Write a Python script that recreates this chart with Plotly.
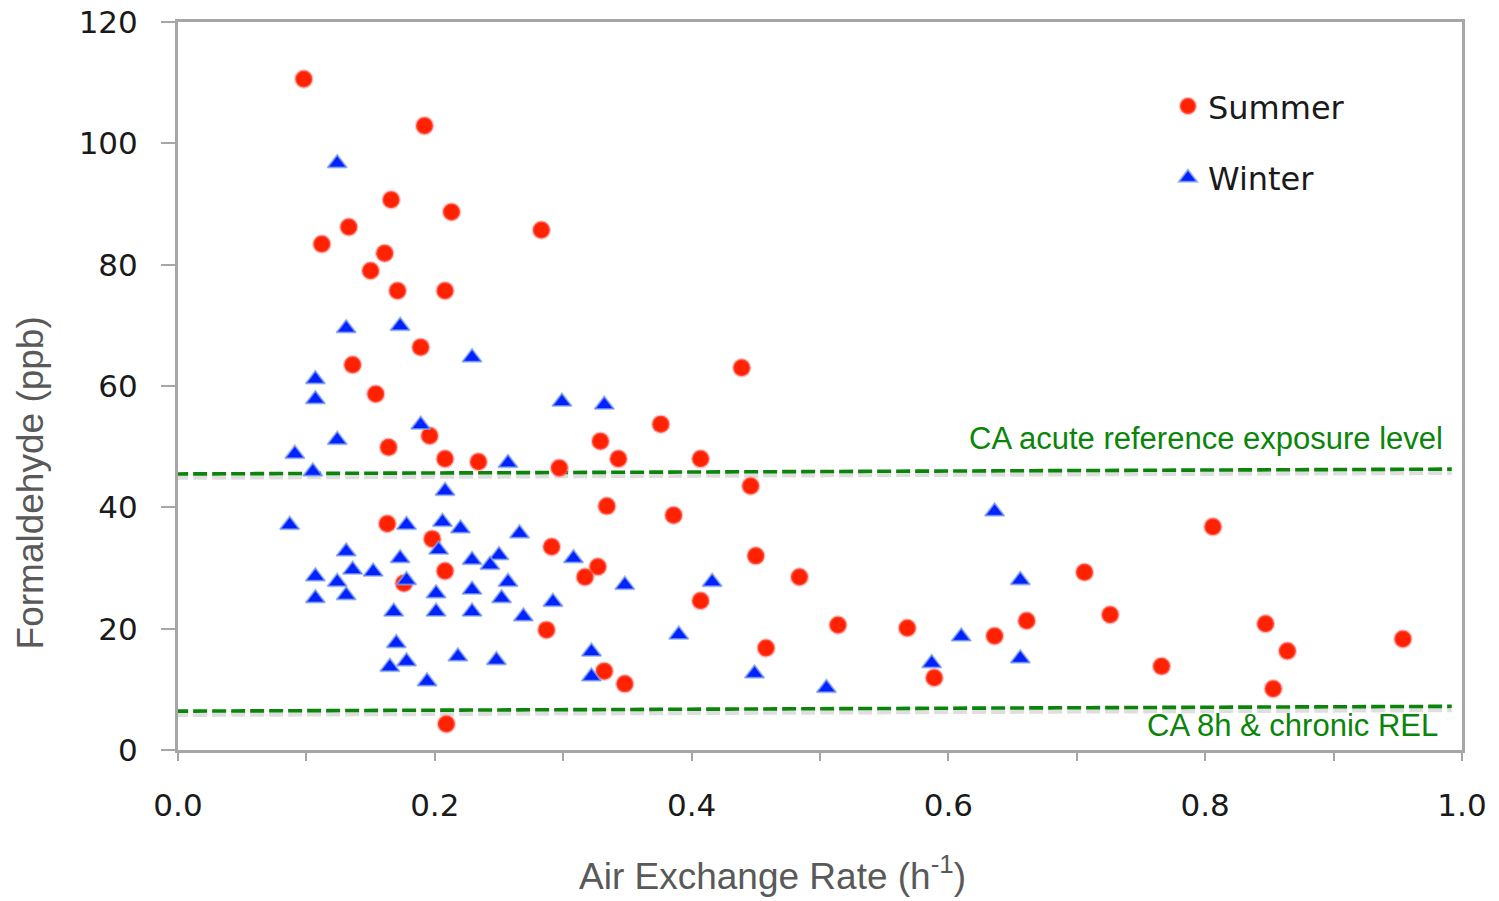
import plotly.graph_objects as go

# ---- data ----
summer_x = [0.098, 0.192, 0.166, 0.213, 0.112, 0.133, 0.283, 0.161, 0.150, 0.171,
            0.208, 0.189, 0.136, 0.439, 0.154, 0.376, 0.196, 0.329, 0.164, 0.208,
            0.234, 0.343, 0.407, 0.297, 0.446, 0.334, 0.386, 0.806, 0.163, 0.198,
            0.291, 0.450, 0.706, 0.327, 0.317, 0.208, 0.176, 0.484, 0.407, 0.726,
            0.514, 0.568, 0.287, 0.661, 0.636, 0.847, 0.864, 0.954, 0.458, 0.766,
            0.332, 0.348, 0.589, 0.853, 0.209]
summer_y = [110.6, 102.9, 90.7, 88.7, 83.4, 86.2, 85.7, 81.9, 79.0, 75.7,
            75.7, 66.4, 63.5, 63.0, 58.7, 53.7, 51.8, 50.9, 49.9, 48.0,
            47.5, 48.0, 48.0, 46.5, 43.5, 40.2, 38.7, 36.8, 37.3, 34.8,
            33.5, 32.0, 29.3, 30.2, 28.5, 29.5, 27.5, 28.5, 24.6, 22.3,
            20.6, 20.1, 19.8, 21.3, 18.8, 20.8, 16.3, 18.3, 16.8, 13.8,
            13.0, 10.9, 11.9, 10.1, 4.3]

winter_x = [0.124, 0.131, 0.173, 0.229, 0.107, 0.107, 0.299, 0.332, 0.189, 0.124,
            0.091, 0.257, 0.105, 0.208, 0.087, 0.178, 0.206, 0.220, 0.266, 0.636,
            0.131, 0.203, 0.173, 0.229, 0.250, 0.243, 0.308, 0.136, 0.152, 0.107,
            0.124, 0.178, 0.257, 0.348, 0.416, 0.656, 0.107, 0.131, 0.201, 0.229,
            0.252, 0.292, 0.168, 0.201, 0.229, 0.269, 0.170, 0.390, 0.610, 0.322,
            0.165, 0.178, 0.218, 0.248, 0.322, 0.449, 0.587, 0.656, 0.194, 0.505]
winter_y = [96.7, 69.5, 69.9, 64.7, 61.1, 57.8, 57.4, 56.9, 53.6, 51.1,
            48.8, 47.3, 45.9, 42.7, 37.1, 37.1, 37.6, 36.5, 35.7, 39.3,
            32.7, 33.0, 31.6, 31.3, 32.1, 30.5, 31.6, 29.7, 29.4, 28.6,
            27.7, 28.0, 27.7, 27.2, 27.7, 28.0, 25.0, 25.5, 25.8, 26.4,
            25.0, 24.4, 22.8, 22.8, 22.8, 22.0, 17.6, 19.0, 18.7, 16.2,
            13.7, 14.6, 15.4, 14.8, 12.1, 12.6, 14.3, 15.1, 11.3, 10.2]

# reference levels (drawn as slightly tilted dashed lines, as in the original)
ref_line_x = [-0.003, 0.992]
acute_rel_y = [45.5, 46.3]
chronic_rel_y = [6.4, 7.2]
acute_label = "CA acute reference exposure level"
chronic_label = "CA 8h & chronic REL"

GREEN = "#0a850a"
GRAY_AXIS = "#a6a6a6"
LABEL_FONT = "Liberation Sans Narrow, Arial Narrow, Liberation Sans, Arial"

fig = go.Figure()

# shadows of the dashed lines, then the lines
for yy in (acute_rel_y, chronic_rel_y):
    fig.add_trace(go.Scatter(
        x=ref_line_x, y=[v - 0.6 for v in yy], mode="lines",
        line=dict(color="rgba(0,0,0,0.13)", width=4.5, dash="14px,5px"),
        showlegend=False, hoverinfo="skip"))
    fig.add_trace(go.Scatter(
        x=ref_line_x, y=yy, mode="lines",
        line=dict(color=GREEN, width=3.6, dash="14px,5px"),
        showlegend=False, hoverinfo="skip"))

fig.add_trace(go.Scatter(
    x=summer_x, y=summer_y, mode="markers", name="Summer",
    legendgroup="s",
    marker=dict(symbol="circle", size=17, color="#ff2200",
                line=dict(color="rgba(255,120,120,0.45)", width=2.5))))
fig.add_trace(go.Scatter(
    x=winter_x, y=winter_y, mode="markers", name="Winter",
    legendgroup="w",
    marker=dict(symbol="triangle-up", size=17, color="#0022ff",
                line=dict(color="rgba(140,170,235,0.7)", width=2))))

fig.add_annotation(x=0.987, y=51.4, xref="x", yref="y", text=acute_label,
                   showarrow=False, xanchor="right", yanchor="middle",
                   font=dict(family=LABEL_FONT, size=31, color=GREEN))
fig.add_annotation(x=0.983, y=4.0, xref="x", yref="y", text=chronic_label,
                   showarrow=False, xanchor="right", yanchor="middle",
                   font=dict(family=LABEL_FONT, size=31, color=GREEN))

# axis titles
fig.add_annotation(x=-0.115, y=44, xref="paper", yref="y", text="Formaldehyde (ppb)",
                   showarrow=False, textangle=-90, xanchor="center", yanchor="middle",
                   font=dict(family="Liberation Sans, Arial", size=37, color="#595959"))
fig.add_annotation(x=0.463, y=-0.170, xref="paper", yref="paper",
                   text="Air Exchange Rate (h<sup>-1</sup>)",
                   showarrow=False, xanchor="center", yanchor="middle",
                   font=dict(family="Liberation Sans, Arial", size=37, color="#595959"))

tickfont = dict(family="DejaVu Sans, Verdana", size=31, color="#1a1a1a")

fig.update_layout(
    width=1499, height=901,
    margin=dict(l=178, r=37, t=22, b=151, autoexpand=False),
    paper_bgcolor="white", plot_bgcolor="white",
    showlegend=True,
    legend=dict(x=0.771, y=0.922, xanchor="left", yanchor="top",
                font=dict(family="DejaVu Sans, Verdana", size=32, color="#1a1a1a"),
                tracegroupgap=27, bgcolor="rgba(0,0,0,0)"),
    xaxis=dict(range=[0, 1], tick0=0, dtick=0.2, tickformat=".1f",
               showgrid=False, zeroline=False, automargin=False,
               showline=True, linecolor=GRAY_AXIS, linewidth=3, mirror=True,
               ticks="outside", ticklen=8, tickwidth=2, tickcolor=GRAY_AXIS,
               minor=dict(dtick=0.1, ticks="outside", ticklen=8, tickwidth=2,
                          tickcolor=GRAY_AXIS, showgrid=False),
               tickfont=tickfont, ticklabelstandoff=18),
    yaxis=dict(range=[0, 120], tick0=0, dtick=20,
               showgrid=False, zeroline=False, automargin=False,
               showline=True, linecolor=GRAY_AXIS, linewidth=3, mirror=True,
               ticks="outside", ticklen=14, tickwidth=2, tickcolor=GRAY_AXIS,
               tickfont=tickfont, ticklabelstandoff=17),
)

fig.write_html("out.html")
